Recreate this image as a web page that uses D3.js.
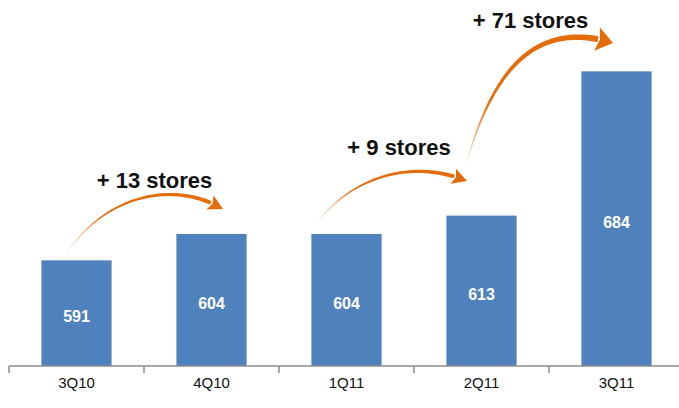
<!DOCTYPE html>
<html><head><meta charset="utf-8">
<script src="https://cdn.jsdelivr.net/npm/d3@7"></script>
<style>html,body{margin:0;padding:0;background:#fff;}svg{display:block;}</style>
</head><body>
<div id="chart"></div>
<script>
// ---- data ----
const categories = ["3Q10", "4Q10", "1Q11", "2Q11", "3Q11"];
const stores = [591, 604, 604, 613, 684];
const changeLabels = ["+ 13 stores", "+ 9 stores", "+ 71 stores"];
// arrow paths in data space: [slot position, store value] for start, control1, control2, end
const arrowPaths = [
  [[0.407, 592.2], [0.674, 621.7], [1.193, 631.5], [1.585, 616.3]],
  [[2.267, 608.4], [2.526, 631.5], [2.970, 641.4], [3.393, 630.1]],
  [[3.378, 636.5], [3.563, 680.7], [3.859, 710.3], [4.474, 698.0]]
];
// label anchors in data space: [slot position, store value]
const labelAnchors = [[1.078, 626.6], [2.889, 642.8], [3.863, 705.3]];

// ---- layout ----
const W = 679, H = 408;
const svg = d3.select("#chart").append("svg").attr("width", W).attr("height", H);

const x = d3.scaleBand().domain(categories).range([9, 684]).paddingInner(0.48).paddingOuter(0.24);
const slot = d3.scaleLinear().domain([0, categories.length]).range([9, 684]);
const y = d3.scaleLinear().domain([539, 700]).range([366, 366 - 161 * 2.032]);

// bars
svg.append("g").selectAll("rect").data(stores).join("rect")
  .attr("x", (d, i) => x(categories[i]))
  .attr("width", x.bandwidth())
  .attr("y", d => y(d))
  .attr("height", d => y(539) - y(d))
  .attr("fill", "#4F81BD");

// value labels
svg.append("g").selectAll("text").data(stores).join("text")
  .attr("x", (d, i) => x(categories[i]) + x.bandwidth() / 2)
  .attr("y", d => (y(d) + y(539)) / 2 + 9)
  .attr("text-anchor", "middle")
  .attr("font-family", "Liberation Sans, Arial, sans-serif")
  .attr("font-weight", "bold")
  .attr("font-size", 16)
  .attr("fill", "#fff")
  .text(d => d);

// axis
const axisG = svg.append("g").attr("transform", `translate(0,${y(539)})`);
axisG.append("line").attr("x1", slot(0)).attr("x2", slot(categories.length))
  .attr("stroke", "#8c8c8c").attr("stroke-width", 1.5);
axisG.selectAll("line.tick").data(d3.range(categories.length + 1)).join("line")
  .attr("class", "tick")
  .attr("x1", d => slot(d)).attr("x2", d => slot(d))
  .attr("y1", 0).attr("y2", 7)
  .attr("stroke", "#8c8c8c").attr("stroke-width", 1.5);
axisG.selectAll("text").data(categories).join("text")
  .attr("x", d => x(d) + x.bandwidth() / 2)
  .attr("y", 22)
  .attr("text-anchor", "middle")
  .attr("font-family", "Liberation Sans, Arial, sans-serif")
  .attr("font-size", 15)
  .attr("fill", "#111")
  .text(d => d);

// tapered curved arrows
const orange = "#E46C0A";
function bez(p, t) {
  const u = 1 - t;
  return [
    u*u*u*p[0][0] + 3*u*u*t*p[1][0] + 3*u*t*t*p[2][0] + t*t*t*p[3][0],
    u*u*u*p[0][1] + 3*u*u*t*p[1][1] + 3*u*t*t*p[2][1] + t*t*t*p[3][1]
  ];
}
const arrowWidths = [4, 4, 6];
const headSizes = [[13, 8], [12, 8], [14, 12]];
arrowPaths.forEach((ap, k) => {
  const p = ap.map(d => [slot(d[0]), y(d[1])]);
  const N = 80;
  const pts = d3.range(N + 1).map(i => bez(p, i / N));
  let lens = [0];
  for (let i = 1; i <= N; i++) lens.push(lens[i-1] + Math.hypot(pts[i][0]-pts[i-1][0], pts[i][1]-pts[i-1][1]));
  const total = lens[N];
  const [HL, HW] = headSizes[k];
  let endIdx = N;
  while (endIdx > 0 && total - lens[endIdx] < HL) endIdx--;
  const tip = pts[N];
  const base = pts[endIdx];
  const left = [], right = [];
  for (let i = 0; i <= endIdx; i++) {
    const a = pts[Math.max(0, i-1)], b = pts[Math.min(N, i+1)];
    const dx = b[0]-a[0], dy = b[1]-a[1], L = Math.hypot(dx, dy);
    const nx = -dy/L, ny = dx/L;
    const f = lens[i] / lens[endIdx];
    const w = arrowWidths[k] / 2 * Math.pow(f, 0.8);
    left.push([pts[i][0] + nx*w, pts[i][1] + ny*w]);
    right.push([pts[i][0] - nx*w, pts[i][1] - ny*w]);
  }
  const poly = left.concat(right.reverse());
  const grad = svg.append("defs").append("linearGradient")
    .attr("id", "g" + k).attr("gradientUnits", "userSpaceOnUse")
    .attr("x1", p[0][0]).attr("y1", p[0][1]).attr("x2", base[0]).attr("y2", base[1]);
  grad.append("stop").attr("offset", 0).attr("stop-color", orange).attr("stop-opacity", 0.15);
  grad.append("stop").attr("offset", 0.35).attr("stop-color", orange).attr("stop-opacity", 1);
  grad.append("stop").attr("offset", 1).attr("stop-color", orange).attr("stop-opacity", 1);
  svg.append("path").attr("d", d3.line()(poly) + "Z").attr("fill", "url(#g" + k + ")");
  const dx = tip[0]-base[0], dy = tip[1]-base[1], L = Math.hypot(dx, dy);
  const nx = -dy/L, ny = dx/L;
  const ux = dx/L, uy = dy/L;
  const back = [base[0] - ux*1, base[1] - uy*1];
  const head = [
    tip,
    [back[0] + nx*HW, back[1] + ny*HW],
    [back[0] + ux*3, back[1] + uy*3],
    [back[0] - nx*HW, back[1] - ny*HW]
  ];
  svg.append("path").attr("d", d3.line()(head) + "Z").attr("fill", orange);
});

// change labels
svg.append("g").selectAll("text").data(changeLabels).join("text")
  .attr("x", (d, i) => slot(labelAnchors[i][0]))
  .attr("y", (d, i) => y(labelAnchors[i][1]))
  .attr("text-anchor", "middle")
  .attr("font-family", "Liberation Sans, Arial, sans-serif")
  .attr("font-weight", "bold")
  .attr("font-size", 22)
  .attr("fill", "#111")
  .text(d => d);
</script>
</body></html>
